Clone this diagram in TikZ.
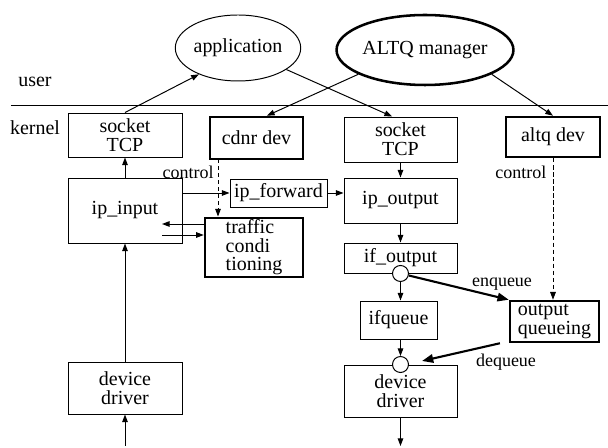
\documentclass[tikz,border=0pt]{standalone}
\usepackage{fontspec}
\setmainfont{Liberation Serif}
\usetikzlibrary{arrows.meta, shapes}

\begin{document}
\begin{tikzpicture}[
    box/.style={draw, line width=0.7pt, inner sep=1pt, align=center,
      font=\fontsize{14.2}{13.6}\selectfont},
    heavy/.style={box, line width=1.8pt},
    proc/.style={draw, ellipse, line width=0.7pt, inner sep=0pt, font=\fontsize{14.2}{16}\selectfont},
    joint/.style={draw, circle, fill=white, line width=0.7pt, minimum size=0.4cm, inner sep=0pt},
    lbl/.style={font=\fontsize{12.8}{14}\selectfont, inner sep=1pt},
    arr/.style={-{Triangle[length=5.5pt,width=4pt]}, line width=0.7pt},
    ctl/.style={arr, dash pattern=on 3pt off 2pt},
    qarr/.style={-{Triangle[length=8pt,width=6pt]}, line width=1.5pt}
  ]
	\useasboundingbox (0,0) rectangle (15.2,11.2);

	% user space
	\node[proc, minimum width=2.65cm, minimum height=1.65cm] (app) at (5.95,10.0) {application};
	\node[proc, line width=1.8pt, minimum width=3.7cm, minimum height=1.75cm] (altqm) at (10.625,9.95) {ALTQ manager};
	\node[lbl, font=\fontsize{14.2}{16}\selectfont] (user) at (0.875,9.15) {user};
	\node[lbl, font=\fontsize{14.2}{16}\selectfont] (kernel) at (0.875,8.0) {kernel};
	\draw[line width=0.7pt] (0.275,8.575) -- (15.2,8.575);

	% input side
	\node[box, minimum width=2.85cm, minimum height=1.1cm] (sockL) at (3.125,7.825) {socket\\TCP};
	\node[box, minimum width=2.85cm, minimum height=1.625cm] (ipin) at (3.125,5.9375) {\raisebox{0.12cm}{ip\_input}};
	\node[box, minimum width=2.85cm, minimum height=1.3cm] (devL) at (3.125,1.5) {device\\driver};

	% conditioner
	\node[heavy, minimum width=2.325cm, minimum height=1.05cm] (cdnr) at (6.4125,7.75) {cdnr dev};
	\node[box, minimum width=2.425cm, minimum height=0.7cm] (ipfwd) at (6.9625,6.375) {ip\_forward};
	\node[heavy, minimum width=2.45cm, minimum height=1.425cm, font=\fontsize{14.2}{12.2}\selectfont] (tc) at (6.35,5.0125) {\begin{tabular}{@{}l@{}}traffic\\condi\\tioning\end{tabular}};

	% output side
	\node[box, minimum width=2.825cm, minimum height=1.125cm] (sockR) at (10.0125,7.7125) {socket\\TCP};
	\node[box, minimum width=2.825cm, minimum height=1.125cm] (ipout) at (10.0125,6.1875) {ip\_output};
	\node[box, minimum width=2.825cm, minimum height=0.75cm] (ifout) at (10.0125,4.75) {if\_output};
	\node[box, minimum width=1.925cm, minimum height=0.95cm] (ifq) at (9.9625,3.2) {ifqueue};
	\node[box, minimum width=2.825cm, minimum height=1.3cm] (devR) at (10.0125,1.425) {device\\driver};
	\node[joint] (j1) at (ifout.south) {};
	\node[joint] (j2) at (devR.north) {};

	% altq
	\node[heavy, minimum width=2.35cm, minimum height=1.0cm] (altqdev) at (13.825,7.775) {altq dev};
	\node[heavy, minimum width=2.225cm, minimum height=1.025cm, font=\fontsize{14.2}{12.2}\selectfont] (oq) at (13.8625,3.1625) {\begin{tabular}{@{}l@{}}output\\queueing\end{tabular}};

	% free ends
	\coordinate (wireL) at (3.125,0.05);
	\coordinate (wireR) at (10.0125,0.05);
	\coordinate (in1) at (4.05,5.6);
	\coordinate (in2) at (4.05,5.325);
	\coordinate (deq) at (10.55,2.175);
	\coordinate (c1) at (5.45,7.225);

	% user <-> kernel
	\draw[arr] (sockL.north) -- (app.214);
	\draw[arr] (app.336) -- ([xshift=-0.21cm]sockR.north);
	\draw[arr] (altqm.200) -- ([xshift=0.26cm]cdnr.north);
	\draw[arr] (altqm.340) -- (altqdev.north);

	% input path
	\draw[arr] (wireL) -- (devL.south);
	\draw[arr] (devL) -- (ipin);
	\draw[arr] (ipin) -- (sockL);
	\draw[arr] (ipfwd.west -| ipin.east) -- (ipfwd.west);
	\draw[arr] (ipfwd.east) -- (ipfwd.east -| ipout.west);
	\draw[arr] (tc.west |- in1) -- (in1);
	\draw[arr] (in2) -- (tc.west |- in2);

	% control
	\draw[ctl] (c1) -- (c1 |- tc.north);
	\node[lbl, anchor=east] (ctl1) at (5.38,6.9) {control};
	\draw[ctl] (altqdev.south) -- (altqdev.south |- oq.north);
	\node[lbl, anchor=east] (ctl2) at (13.7,6.9) {control};

	% output path
	\draw[arr] (sockR) -- (ipout);
	\draw[arr] (ipout) -- (ifout);
	\draw[arr] (j1) -- (j1 |- ifq.north);
	\draw[arr] (j1 |- ifq.south) -- (j2);
	\draw[arr] (devR.south) -- (wireR);
	\draw[qarr] (j1) -- (oq.north west);
	\node[lbl] (enq) at (12.55,4.1) {enqueue};
	\draw[qarr] ([xshift=-0.22cm]oq.south west) -- (deq);
	\node[lbl] (deqlbl) at (12.65,2.15) {dequeue};
\end{tikzpicture}
\end{document}
